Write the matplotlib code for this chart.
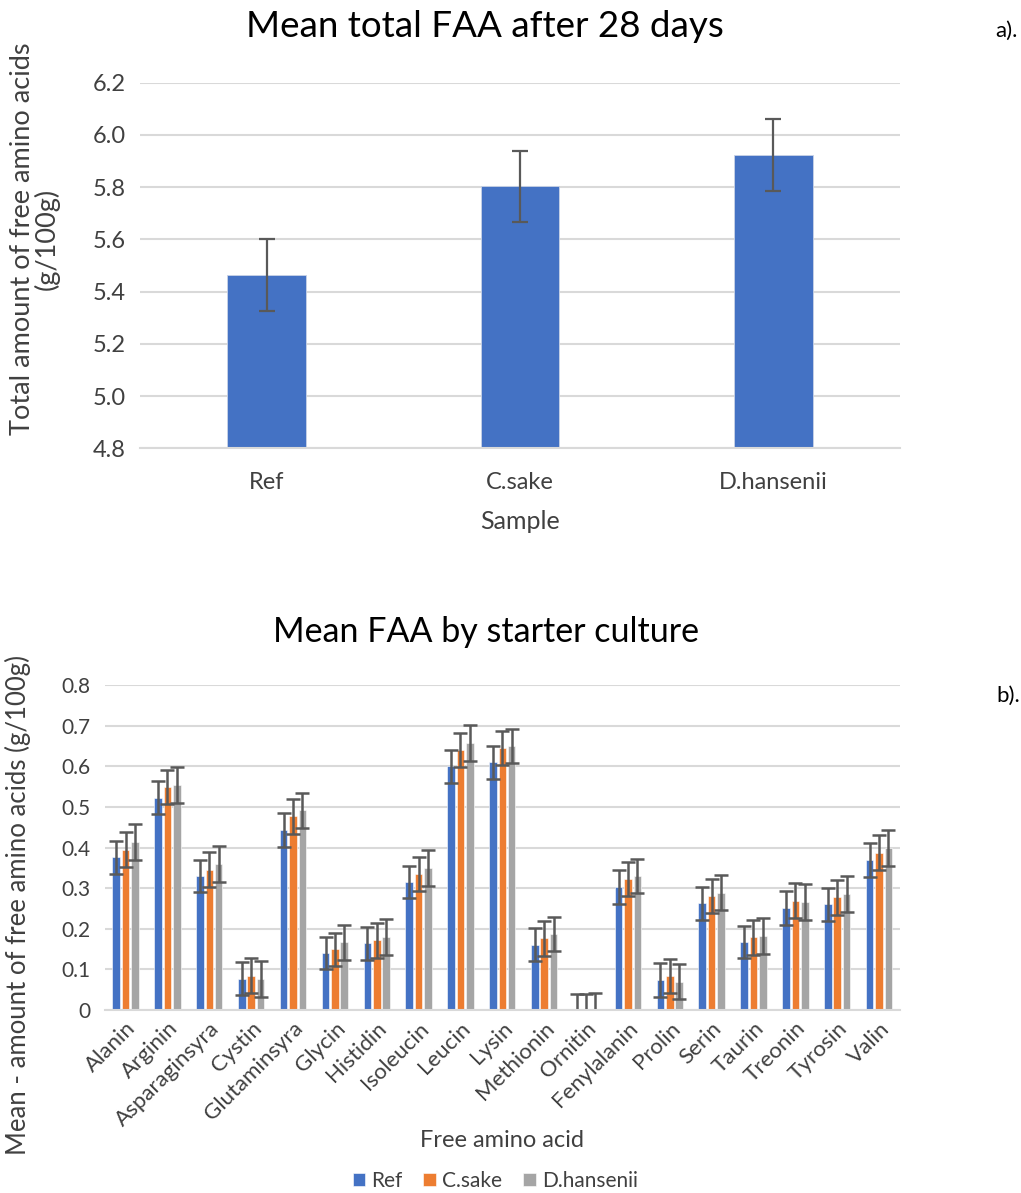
import matplotlib
matplotlib.use("Agg")
import matplotlib.pyplot as plt
import numpy as np

plt.rcParams['font.family'] = ['Lato', 'DejaVu Sans']

# Panel a: total free amino acids after 28 days
samples = ["Ref", "C.sake", "D.hansenii"]
total_mean = [5.464, 5.804, 5.923]
total_err = [0.138, 0.136, 0.138]

# Panel b: individual free amino acids by starter culture
amino_acids = ["Alanin", "Arginin", "Asparaginsyra", "Cystin", "Glutaminsyra",
               "Glycin", "Histidin", "Isoleucin", "Leucin", "Lysin", "Methionin",
               "Ornitin", "Fenylalanin", "Prolin", "Serin", "Taurin", "Treonin",
               "Tyrosin", "Valin"]
series_names = ["Ref", "C.sake", "D.hansenii"]
ref_mean = [0.376, 0.523, 0.330, 0.077, 0.443, 0.140, 0.164, 0.315, 0.600, 0.610,
            0.161, 0.0, 0.303, 0.074, 0.263, 0.167, 0.251, 0.260, 0.369]
csake_mean = [0.395, 0.550, 0.345, 0.084, 0.477, 0.149, 0.172, 0.335, 0.641, 0.645,
              0.176, 0.0, 0.323, 0.084, 0.281, 0.179, 0.269, 0.277, 0.387]
dhans_mean = [0.413, 0.554, 0.359, 0.077, 0.492, 0.167, 0.180, 0.349, 0.657, 0.649,
              0.187, 0.0, 0.330, 0.069, 0.289, 0.182, 0.266, 0.285, 0.399]
ref_err = [0.040, 0.040, 0.040, 0.040, 0.041, 0.040, 0.040, 0.040, 0.041, 0.041,
           0.041, 0.040, 0.041, 0.041, 0.041, 0.039, 0.041, 0.040, 0.042]
csake_err = [0.043, 0.042, 0.043, 0.043, 0.043, 0.040, 0.043, 0.042, 0.042, 0.042,
             0.042, 0.040, 0.042, 0.042, 0.042, 0.043, 0.043, 0.043, 0.043]
dhans_err = [0.044, 0.044, 0.044, 0.044, 0.043, 0.043, 0.044, 0.044, 0.044, 0.042,
             0.043, 0.043, 0.042, 0.043, 0.043, 0.044, 0.044, 0.044, 0.044]

BLUE = "#4472C4"
ORANGE = "#ED7D31"
GRAY = "#A5A5A5"
GRID = "#D9D9D9"
ERR = "#595959"
TXT = "#404040"

fig = plt.figure(figsize=(10.21, 11.93), dpi=100)


def style_axes(ax):
    for side in ("top", "right", "left"):
        ax.spines[side].set_visible(False)
    ax.spines["bottom"].set_color(GRID)
    ax.spines["bottom"].set_linewidth(1.5)
    ax.yaxis.grid(True, color=GRID, linewidth=1.5)
    ax.set_axisbelow(True)
    ax.tick_params(axis="both", length=0, colors=TXT)


# ---- Panel a ----
ax1 = fig.add_axes([0.137, 0.6242, 0.7444, 0.3065])
x1 = np.arange(len(samples))
ax1.bar(x1, total_mean, width=0.31, color=BLUE, edgecolor="#C9D3E6", linewidth=0.6,
        yerr=total_err, error_kw=dict(ecolor=ERR, elinewidth=1.6, capsize=5.5, capthick=1.6))
ax1.set_xlim(-0.5, 2.5)
ax1.set_ylim(4.8, 6.2)
ax1.set_yticks(np.arange(4.8, 6.21, 0.2))
ax1.set_yticklabels([f"{v:.1f}" for v in np.arange(4.8, 6.21, 0.2)], fontsize=17)
ax1.set_xticks(x1)
ax1.set_xticklabels(samples, fontsize=17)
ax1.tick_params(axis="x", pad=17)
ax1.tick_params(axis="y", pad=10)
style_axes(ax1)
ax1.set_xlabel("Sample", fontsize=18, color=TXT, labelpad=12)
fig.text(0.034, 0.8, "Total amount of free amino acids\n(g/100g)", fontsize=19.5,
         color=TXT, rotation=90, ha="center", va="center", linespacing=0.95,
         multialignment="center")
fig.text(0.475, 0.978, "Mean total FAA after 28 days", fontsize=26.5, color="black",
         ha="center", va="center")
fig.text(0.997, 0.974, "a).", fontsize=16, color="black", ha="right", va="center")

# ---- Panel b ----
ax2 = fig.add_axes([0.1025, 0.1534, 0.779, 0.2724])
x2 = np.arange(len(amino_acids))
offset = 0.224
bw = 0.18
ekw = dict(ecolor=ERR, elinewidth=1.8, capsize=5, capthick=1.8)
for i, (vals, errs, col, name) in enumerate([(ref_mean, ref_err, BLUE, series_names[0]),
                                             (csake_mean, csake_err, ORANGE, series_names[1]),
                                             (dhans_mean, dhans_err, GRAY, series_names[2])]):
    ax2.bar(x2 + (i - 1) * offset, vals, width=bw, color=col, label=name,
            edgecolor="white", linewidth=0.4, yerr=errs, error_kw=ekw)
ax2.set_xlim(-0.5, len(amino_acids) - 0.5)
ax2.set_ylim(0, 0.8)
yt = np.round(np.arange(0, 0.81, 0.1), 1)
ax2.set_yticks(yt)
ax2.set_yticklabels(["0"] + [f"{v:.1f}" for v in yt[1:]], fontsize=15)
ax2.set_xticks(x2)
ax2.set_xticklabels(amino_acids, fontsize=16, rotation=45, ha="right",
                    rotation_mode="anchor")
ax2.tick_params(axis="x", pad=6)
ax2.tick_params(axis="y", pad=10)
style_axes(ax2)
ax2.set_xlabel("Free amino acid", fontsize=17, color=TXT, labelpad=0)
fig.text(0.018, 0.241, "Mean - amount of free amino acids (g/100g)", fontsize=18.5,
         color=TXT, rotation=90, ha="center", va="center")
fig.text(0.476, 0.47, "Mean FAA by starter culture", fontsize=24.5, color="black",
         ha="center", va="center")
fig.text(0.999, 0.417, "b).", fontsize=16, color="black", ha="right", va="center")

fig.legend(loc="center", bbox_to_anchor=(0.485, 0.01), ncol=3, frameon=False,
           fontsize=15, handlelength=0.6, handleheight=0.6, handletextpad=0.3,
           columnspacing=1.0, labelcolor=TXT)

fig.savefig("out.png", dpi=100)
